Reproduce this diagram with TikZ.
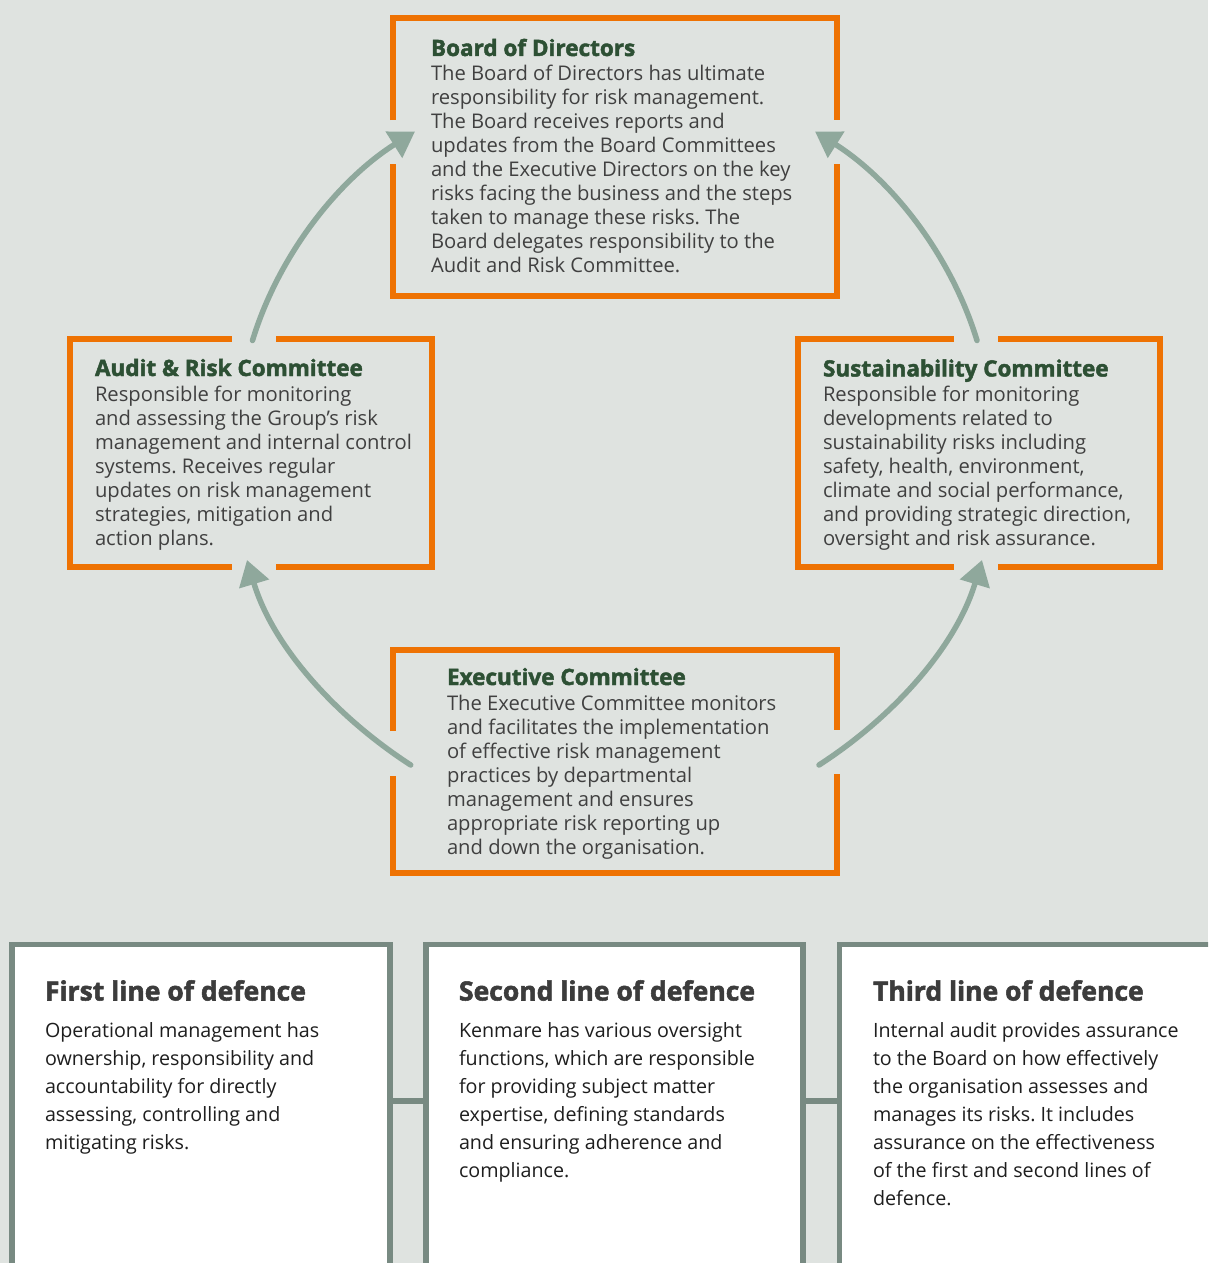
\documentclass[tikz,border=0pt]{standalone}
\usepackage{fontspec}
\setmainfont{Open Sans}[BoldFeatures={FakeBold=2}]
\usetikzlibrary{arrows.meta}
\frenchspacing
\definecolor{bgc}{HTML}{DFE3E0}
\definecolor{orc}{HTML}{EE7203}
\definecolor{arrowc}{HTML}{8FA89C}
\definecolor{grn}{HTML}{2D5034}
\definecolor{bodyc}{HTML}{404040}
\definecolor{gbord}{HTML}{788A82}
\definecolor{dtitle}{HTML}{3C3C3C}
\definecolor{dtext}{HTML}{1E1E1E}
\newcommand{\otitle}[1]{\textcolor{grn}{\fontsize{22.5}{24}\selectfont\bfseries #1}}
\newcommand{\ltitle}[1]{\textcolor{dtitle}{\fontsize{26.5}{28}\selectfont\bfseries #1}}
\begin{document}
\frenchspacing
\begin{tikzpicture}[x=1pt,y=-1pt,
  obox/.style={draw=orc,line width=5.7pt},
  flow/.style={draw=arrowc,line width=5.5pt,line cap=round,-{Triangle[length=25pt,width=30pt]}},
  lbox/.style={draw=gbord,line width=5.5pt,fill=white,rectangle,inner sep=0pt,outer sep=0pt,anchor=north west},
  gline/.style={draw=gbord,line width=5.5pt},
  otext/.style={anchor=base west,inner sep=0pt,outer sep=0pt,align=left,text=bodyc,font=\fontsize{20.2}{24}\selectfont\frenchspacing},
  ltext/.style={anchor=base west,inner sep=0pt,outer sep=0pt,align=left,text=dtext,font=\fontsize{19.7}{28}\selectfont\frenchspacing}
]
\useasboundingbox (0,0) rectangle (1208,1263);
\fill[bgc] (0,0) rectangle (1208,1263);
\clip (0,0) rectangle (1208,1263);

% orange frames with gaps
\draw[obox] (393,120) -- (393,17.7) -- (837,17.7) -- (837,120);
\draw[obox] (837,164) -- (837,295.7) -- (393,295.7) -- (393,164);
\draw[obox] (231.7,339) -- (70.3,339) -- (70.3,566.7) -- (231.7,566.7);
\draw[obox] (276,566.7) -- (432,566.7) -- (432,339) -- (276,339);
\draw[obox] (954,339) -- (798,339) -- (798,566.7) -- (954,566.7);
\draw[obox] (998,566.7) -- (1160,566.7) -- (1160,339) -- (998,339);
\draw[obox] (393,731) -- (393,650) -- (837,650) -- (837,730);
\draw[obox] (837,774) -- (837,873) -- (393,873) -- (393,776);

% texts in orange frames
\node[otext] (board) at (431,56) {\begin{tabular}[t]{@{}l@{}}\otitle{Board of Directors}\\[1pt]
The Board of Directors has ultimate\\
responsibility for risk management.\\
The Board receives reports and\\
updates from the Board Committees\\
and the Executive Directors on the key\\
risks facing the business and the steps\\
taken to manage these risks. The\\
Board delegates responsibility to the\\
Audit and Risk Committee.\end{tabular}};

\node[otext] (audit) at (95,376) {\begin{tabular}[t]{@{}l@{}}\otitle{Audit \& Risk Committee}\\[1pt]
Responsible for monitoring\\
and assessing the Group’s risk\\
management and internal control\\
systems. Receives regular\\
updates on risk management\\
strategies, mitigation and\\
action plans.\end{tabular}};

\node[otext] (sust) at (823,376.5) {\begin{tabular}[t]{@{}l@{}}\otitle{Sustainability Committee}\\[1pt]
Responsible for monitoring\\
developments related to\\
sustainability risks including\\
safety, health, environment,\\
climate and social performance,\\
and providing strategic direction,\\
oversight and risk assurance.\end{tabular}};

\node[otext] (exec) at (447,685) {\begin{tabular}[t]{@{}l@{}}\otitle{Executive Committee}\\[1pt]
The Executive Committee monitors\\
and facilitates the implementation\\
of effective risk management\\
practices by departmental\\
management and ensures\\
appropriate risk reporting up\\
and down the organisation.\end{tabular}};

% arrow ends
\coordinate (blS) at (410.7,765);
\coordinate (blE) at (247,560);
\coordinate (brS) at (819,765);
\coordinate (brE) at (982,560);
\coordinate (tlS) at (252.5,340.5);
\coordinate (tlE) at (415,131.5);
\coordinate (trS) at (977,340.5);
\coordinate (trE) at (815,131.5);

\draw[flow] (blS) .. controls (335.3,716.2) and (272.7,646) .. (blE);
\draw[flow] (brS) .. controls (894.4,716.3) and (956.2,646) .. (brE);
\draw[flow] (tlS) .. controls (278.7,254.4) and (338.9,179.5) .. (tlE);
\draw[flow] (trS) .. controls (950.8,254.4) and (891.1,179.5) .. (trE);

% lines of defence
\node[lbox,minimum width=378pt,minimum height=360pt] (first) at (12,944.5) {};
\node[lbox,minimum width=377pt,minimum height=360pt] (second) at (426,944.5) {};
\node[lbox,minimum width=400pt,minimum height=360pt] (third) at (839.5,944.5) {};
\coordinate (lv) at (0,1101);
\draw[gline] (first.east |- lv) -- (second.west |- lv);
\draw[gline] (second.east |- lv) -- (third.west |- lv);

\node[ltext] (firsttxt) at (45,1000.5) {\begin{tabular}[t]{@{}l@{}}\ltitle{First line of defence}\\[8.5pt]
Operational management has\\
ownership, responsibility and\\
accountability for directly\\
assessing, controlling and\\
mitigating risks.\end{tabular}};

\node[ltext] (secondtxt) at (459,1000.5) {\begin{tabular}[t]{@{}l@{}}\ltitle{Second line of defence}\\[8.5pt]
Kenmare has various oversight\\
functions, which are responsible\\
for providing subject matter\\
expertise, defining standards\\
and ensuring adherence and\\
compliance.\end{tabular}};

\node[ltext] (thirdtxt) at (873,1000.5) {\begin{tabular}[t]{@{}l@{}}\ltitle{Third line of defence}\\[8.5pt]
Internal audit provides assurance\\
to the Board on how effectively\\
the organisation assesses and\\
manages its risks. It includes\\
assurance on the effectiveness\\
of the first and second lines of\\
defence.\end{tabular}};
\end{tikzpicture}
\end{document}
